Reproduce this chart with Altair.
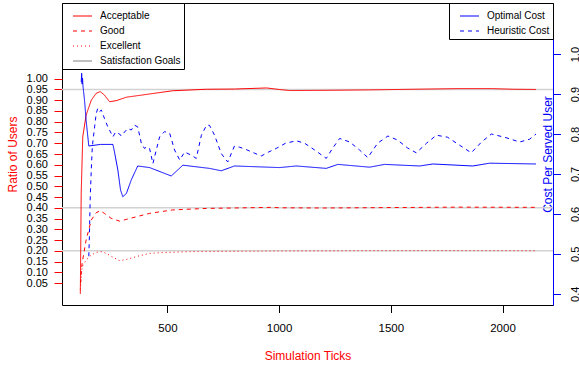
import altair as alt
import pandas as pd

FONT = "Liberation Sans"

# ---- data ----
acc_x = [110, 114, 121, 136, 159, 181, 199, 218, 241, 271, 316, 420, 523, 674, 800, 944, 1000, 1047, 1200, 1400, 1600, 1800, 1950, 2050, 2150]
acc_y = [0.00, 0.47, 0.73, 0.831, 0.90, 0.932, 0.94, 0.924, 0.893, 0.898, 0.914, 0.929, 0.944, 0.951, 0.952, 0.957, 0.950, 0.945, 0.946, 0.948, 0.951, 0.954, 0.954, 0.951, 0.950]

good_x = [111, 114, 118, 136, 159, 181, 199, 218, 248, 286, 316, 375, 420, 523, 674, 970, 1000, 1200, 1500, 1800, 2150]
good_y = [0.05, 0.095, 0.142, 0.25, 0.343, 0.377, 0.386, 0.374, 0.351, 0.338, 0.346, 0.362, 0.374, 0.39, 0.397, 0.402, 0.400, 0.399, 0.401, 0.403, 0.402]

exc_x = [110, 118, 136, 159, 181, 204, 226, 256, 286, 316, 375, 420, 465, 599, 970, 1300, 1700, 2150]
exc_y = [0.02, 0.126, 0.157, 0.18, 0.193, 0.196, 0.188, 0.17, 0.154, 0.16, 0.177, 0.188, 0.191, 0.196, 0.199, 0.200, 0.201, 0.200]

goal_levels = [0.95, 0.40, 0.20]

opt_x = [114, 116, 118, 120, 122, 129, 136, 148, 200, 256, 263, 278, 290, 300, 316, 338, 367, 420, 517, 569, 688, 741, 800, 1002, 1077, 1211, 1263, 1405, 1472, 1629, 1688, 1867, 1942, 2150]
opt_y = [0.93, 0.952, 0.925, 0.94, 0.92, 0.884, 0.834, 0.770, 0.774, 0.774, 0.755, 0.710, 0.660, 0.643, 0.651, 0.685, 0.720, 0.716, 0.695, 0.722, 0.714, 0.708, 0.720, 0.716, 0.720, 0.714, 0.724, 0.717, 0.724, 0.720, 0.725, 0.720, 0.727, 0.725]

heu_x = [148, 151, 154, 159, 163, 166, 174, 181, 188, 196, 204, 218, 233, 248, 256, 268, 286, 293, 308, 323, 338, 353, 367, 383, 397, 408, 420, 435, 450, 465, 487, 510, 532, 555, 577, 607, 629, 652, 675, 688, 711, 741, 770, 800, 823, 853, 890, 920, 953, 987, 1029, 1077, 1114, 1159, 1211, 1239, 1271, 1316, 1360, 1397, 1441, 1487, 1530, 1575, 1614, 1660, 1704, 1754, 1808, 1860, 1906, 1950, 2009, 2077, 2121, 2150]
heu_y = [0.494, 0.551, 0.634, 0.710, 0.760, 0.780, 0.818, 0.851, 0.864, 0.856, 0.860, 0.839, 0.818, 0.802, 0.793, 0.805, 0.800, 0.795, 0.805, 0.814, 0.810, 0.822, 0.818, 0.777, 0.764, 0.768, 0.764, 0.726, 0.760, 0.793, 0.806, 0.802, 0.760, 0.735, 0.755, 0.747, 0.739, 0.797, 0.822, 0.822, 0.797, 0.751, 0.730, 0.770, 0.767, 0.761, 0.752, 0.745, 0.755, 0.764, 0.777, 0.783, 0.777, 0.760, 0.739, 0.764, 0.789, 0.780, 0.760, 0.741, 0.777, 0.795, 0.785, 0.765, 0.753, 0.777, 0.797, 0.792, 0.772, 0.753, 0.780, 0.800, 0.792, 0.780, 0.787, 0.800]

left_names = ["Acceptable", "Good", "Excellent", "Satisfaction Goals"]
right_names = ["Optimal Cost", "Heuristic Cost"]
left_ticks = [0.05, 0.10, 0.15, 0.20, 0.25, 0.30, 0.35, 0.40, 0.45, 0.50,
              0.55, 0.60, 0.65, 0.70, 0.75, 0.80, 0.85, 0.90, 0.95, 1.00]
right_ticks = [0.4, 0.5, 0.6, 0.7, 0.8, 0.9, 1.0]
x_ticks = [500, 1000, 1500, 2000]

# ---- tables ----
left_df = pd.concat([
    pd.DataFrame({"tick": acc_x, "value": acc_y, "series": "Acceptable"}),
    pd.DataFrame({"tick": good_x, "value": good_y, "series": "Good"}),
    pd.DataFrame({"tick": exc_x, "value": exc_y, "series": "Excellent"}),
], ignore_index=True)
goal_df = pd.DataFrame({"value": goal_levels})
right_df = pd.concat([
    pd.DataFrame({"tick": opt_x, "cost": opt_y, "series": "Optimal Cost"}),
    pd.DataFrame({"tick": heu_x, "cost": heu_y, "series": "Heuristic Cost"}),
], ignore_index=True)

x_scale = alt.Scale(domain=[28, 2226], nice=False, zero=False)
yl_scale = alt.Scale(domain=[-0.052, 1.352], nice=False, zero=False)
yr_scale = alt.Scale(domain=[0.372, 1.128], nice=False, zero=False)

x_axis = alt.Axis(values=x_ticks, format="d", grid=False, tickSize=7.5, tickColor="black", domain=False,
                  labelBaseline="alphabetic", labelPadding=19, labelFontSize=11.5,
                  title="Simulation Ticks", titleColor="red", titleFontSize=12,
                  titleFontWeight="normal", titleBaseline="alphabetic", titleY=54.5)

yl_axis = alt.Axis(values=left_ticks, format=".2f", grid=False, tickColor="red", tickSize=8,
                   domain=False, labelPadding=6.5, labelFontSize=11, labelOverlap=False,
                   title="Ratio of Users", titleColor="red", titleFontSize=12,
                   titleFontWeight="normal", titleAngle=270, titleX=-45.5, titleY=151,
                   titleBaseline="alphabetic", titleAlign="center")

yr_axis = alt.Axis(orient="right", values=right_ticks, format=".1f", grid=False, tickColor="blue",
                   tickSize=7.5, domainColor="blue", labelAngle=270, labelAlign="center",
                   labelBaseline="alphabetic", labelPadding=17.5, labelFontSize=11,
                   labelOverlap=False,
                   title="Cost Per Served User", titleColor="blue", titleFontSize=12,
                   titleFontWeight="normal", titleAngle=270, titleX=-2, titleY=151,
                   titleBaseline="alphabetic", titleAlign="center")

goals = alt.Chart(goal_df).mark_rule(color="#d2d2d2", strokeWidth=1.5).encode(
    y=alt.Y("value:Q", scale=yl_scale, axis=yl_axis)
)

red_lines = alt.Chart(left_df).mark_line(strokeWidth=1).encode(
    x=alt.X("tick:Q", scale=x_scale, axis=x_axis),
    y=alt.Y("value:Q", scale=yl_scale, axis=yl_axis),
    color=alt.Color("series:N",
                    scale=alt.Scale(domain=left_names, range=["red", "red", "red", "#808080"]),
                    legend=alt.Legend(title=None, orient="top-left")),
    strokeDash=alt.StrokeDash("series:N",
                              scale=alt.Scale(domain=left_names, range=[[1, 0], [4, 4], [1, 3], [1, 0]]),
                              legend=alt.Legend(title=None, orient="top-left")),
)

blue_lines = alt.Chart(right_df).mark_line(strokeWidth=1).encode(
    x=alt.X("tick:Q", scale=x_scale, axis=x_axis),
    y=alt.Y("cost:Q", scale=yr_scale, axis=yr_axis),
    color=alt.Color("series:N",
                    scale=alt.Scale(domain=right_names, range=["blue", "blue"]),
                    legend=alt.Legend(title=None, orient="top-right")),
    strokeDash=alt.StrokeDash("series:N",
                              scale=alt.Scale(domain=right_names, range=[[1, 0], [4, 4]]),
                              legend=alt.Legend(title=None, orient="top-right")),
)

left_layer = alt.layer(goals, red_lines)

chart = alt.layer(left_layer, blue_lines).resolve_scale(
    y="independent", color="independent", strokeDash="independent"
).properties(
    width=491, height=302,
    background="white",
    autosize=alt.AutoSizeParams(type="none"),
    padding={"left": 62, "top": 3, "right": 26, "bottom": 62},
).configure_view(
    stroke="black", strokeWidth=1
).configure_axis(
    grid=False, labelFont=FONT, titleFont=FONT, labelColor="black"
).configure_legend(
    strokeColor="black", fillColor="white", padding=3, offset=0, cornerRadius=0,
    labelFont=FONT, labelFontSize=10, labelColor="black",
    symbolType="stroke", symbolSize=361, symbolStrokeWidth=1,
    labelOffset=7.5, rowPadding=-5, symbolOffset=7.5
)

chart.save("out.html", embed_options={"renderer": "svg", "actions": False})
